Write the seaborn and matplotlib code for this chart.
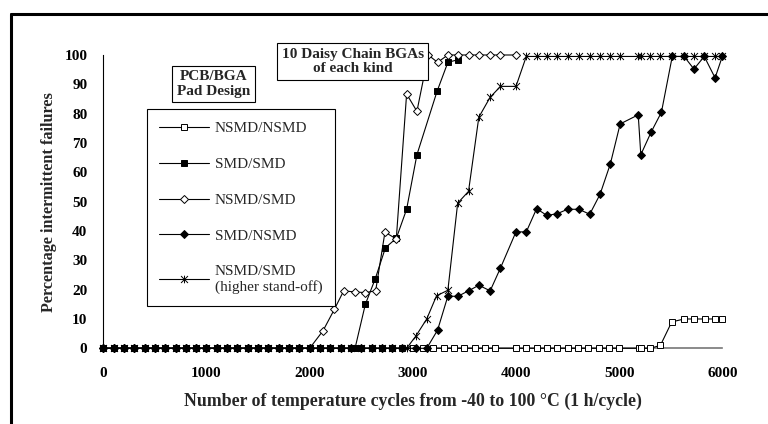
import pandas as pd
import matplotlib.pyplot as plt
import seaborn as sns
from matplotlib.lines import Line2D
from matplotlib.path import Path

# Cycles and percentage of failed BGAs for each pad design
nsmd_nsmd_cycles = [0, 100, 200, 300, 400, 500, 600, 700, 800, 900, 1000, 1100, 1200, 1300,
                    1400, 1500, 1600, 1700, 1800, 1900, 2000, 2100, 2200, 2300, 2400, 2500,
                    2600, 2700, 2800, 2900, 3000, 3100, 3200, 3300, 3400, 3500, 3600, 3700,
                    3800, 4000, 4100, 4200, 4300, 4400, 4500, 4600, 4700, 4800, 4900, 5000,
                    5190, 5210, 5300, 5400, 5510, 5630, 5730, 5830, 5930, 6000]
nsmd_nsmd_pct = [0, 0, 0, 0, 0, 0, 0, 0, 0, 0, 0, 0, 0, 0,
                 0, 0, 0, 0, 0, 0, 0, 0, 0, 0, 0, 0,
                 0, 0, 0, 0, 0, 0, 0, 0, 0, 0, 0, 0,
                 0, 0, 0, 0, 0, 0, 0, 0, 0, 0, 0, 0,
                 0, 0, 0, 1, 9, 10, 10, 10, 10, 10]

smd_smd_cycles = [0, 100, 200, 300, 400, 500, 600, 700, 800, 900, 1000, 1100, 1200, 1300,
                  1400, 1500, 1600, 1700, 1800, 1900, 2000, 2100, 2200, 2300, 2440,
                  2540, 2635, 2735, 2840, 2940, 3040, 3235, 3340, 3440]
smd_smd_pct = [0, 0, 0, 0, 0, 0, 0, 0, 0, 0, 0, 0, 0, 0,
               0, 0, 0, 0, 0, 0, 0, 0, 0, 0, 0,
               15, 23.6, 34.3, 37.5, 47.4, 66, 87.6, 97.5, 98.4]

nsmd_smd_cycles = [0, 100, 200, 300, 400, 500, 600, 700, 800, 900, 1000, 1100, 1200, 1300,
                   1400, 1500, 1600, 1700, 1800, 1900, 2000, 2130, 2240, 2330, 2440, 2540,
                   2640, 2730, 2840, 2940, 3040, 3150, 3240, 3340, 3440, 3540, 3640, 3750,
                   3850, 4000]
nsmd_smd_pct = [0, 0, 0, 0, 0, 0, 0, 0, 0, 0, 0, 0, 0, 0,
                0, 0, 0, 0, 0, 0, 0, 6, 13.3, 19.6, 19.2, 19,
                19.6, 39.6, 37.3, 86.7, 80.8, 100, 97.5, 100, 100, 100, 100, 100,
                100, 100]

smd_nsmd_cycles = [0, 100, 200, 300, 400, 500, 600, 700, 800, 900, 1000, 1100, 1200, 1300,
                   1400, 1500, 1600, 1700, 1800, 1900, 2000, 2100, 2200, 2300, 2400, 2500,
                   2600, 2700, 2800, 2900, 3030, 3135, 3240, 3340, 3435, 3540, 3640, 3750,
                   3850, 4000, 4100, 4200, 4300, 4400, 4500, 4610, 4715, 4815, 4915, 5010,
                   5185, 5210, 5310, 5410, 5515, 5630, 5725, 5825, 5930, 6000]
smd_nsmd_pct = [0, 0, 0, 0, 0, 0, 0, 0, 0, 0, 0, 0, 0, 0,
                0, 0, 0, 0, 0, 0, 0, 0, 0, 0, 0, 0,
                0, 0, 0, 0, 0, 0, 6.2, 17.8, 17.7, 19.6, 21.5, 19.6,
                27.4, 39.7, 39.7, 47.6, 45.3, 45.9, 47.4, 47.4, 45.7, 52.5, 62.9, 76.5,
                79.6, 66, 73.7, 80.5, 99.5, 99.5, 95.2, 99.5, 92.2, 99.5]

standoff_cycles = [0, 100, 200, 300, 400, 500, 600, 700, 800, 900, 1000, 1100, 1200, 1300,
                   1400, 1500, 1600, 1700, 1800, 1900, 2000, 2100, 2200, 2300, 2400, 2500,
                   2600, 2700, 2800, 2940, 3030, 3135, 3230, 3340, 3435, 3540, 3640, 3750,
                   3850, 4000, 4100, 4200, 4300, 4400, 4500, 4610, 4715, 4815, 4915, 5010,
                   5185, 5210, 5300, 5400, 5515, 5630, 5725, 5825, 5930, 6000]
standoff_pct = [0, 0, 0, 0, 0, 0, 0, 0, 0, 0, 0, 0, 0, 0,
                0, 0, 0, 0, 0, 0, 0, 0, 0, 0, 0, 0,
                0, 0, 0, 0, 4.2, 10, 17.9, 19.8, 49.5, 53.5, 78.8, 85.6,
                89.3, 89.3, 99.5, 99.5, 99.5, 99.5, 99.5, 99.5, 99.5, 99.5, 99.5, 99.5,
                99.5, 99.5, 99.5, 99.5, 99.5, 99.5, 99.5, 99.5, 99.5, 99.5]

series_labels = ['NSMD/NSMD', 'SMD/SMD', 'NSMD/SMD', 'SMD/NSMD',
                 'NSMD/SMD\n(higher stand-off)']

sns.set_style("white")
plt.rcParams['font.family'] = ['Liberation Serif', 'DejaVu Serif']

fig = plt.figure(figsize=(7.68, 4.24), dpi=100)
ax = fig.add_axes([0.1345, 0.1785, 0.806, 0.6918])

# Excel-like star marker: an X with a vertical stroke
star = Path([(-1, -1), (1, 1), (-1, 1), (1, -1), (0, -1.1), (0, 1.1)],
            [Path.MOVETO, Path.LINETO, Path.MOVETO, Path.LINETO, Path.MOVETO, Path.LINETO])

# marker style per series: (marker, face colour, size)
styles = [
    ('s', 'white', 4.5),
    ('s', 'black', 5),
    ('D', 'white', 3.6),
    ('D', 'black', 4),
    (star, 'none', 5.5),
]
data = [
    (nsmd_nsmd_cycles, nsmd_nsmd_pct),
    (smd_smd_cycles, smd_smd_pct),
    (nsmd_smd_cycles, nsmd_smd_pct),
    (smd_nsmd_cycles, smd_nsmd_pct),
    (standoff_cycles, standoff_pct),
]

handles = []
for (xs, ys), (mk, fc, ms), lab in zip(data, styles, series_labels):
    df = pd.DataFrame({'cycles': xs, 'pct': ys})
    sns.lineplot(data=df, x='cycles', y='pct', ax=ax, color='black', linewidth=0.8,
                 marker=mk, markersize=ms, markerfacecolor=fc, markeredgecolor='black',
                 markeredgewidth=0.7, clip_on=False, zorder=3)
    handles.append(Line2D([], [], color='black', linewidth=0.8, marker=mk, markersize=ms,
                          markerfacecolor=fc, markeredgecolor='black', markeredgewidth=0.7))

ax.set_xlim(0, 6000)
ax.set_ylim(0, 100)
ax.set_xticks([0, 1000, 2000, 3000, 4000, 5000, 6000])
ax.set_yticks([0, 10, 20, 30, 40, 50, 60, 70, 80, 90, 100])
for s in ['top', 'right']:
    ax.spines[s].set_visible(False)
ax.spines['left'].set_color('black')
ax.spines['left'].set_linewidth(0.8)
ax.spines['bottom'].set_color('#777777')
ax.spines['bottom'].set_linewidth(1.2)
ax.tick_params(axis='y', direction='inout', length=7, width=0.8, colors='black', pad=8,
               labelsize=11)
ax.tick_params(axis='x', direction='inout', length=7, width=0.8, colors='black', pad=10,
               labelsize=11)
for t in ax.get_xticklabels() + ax.get_yticklabels():
    t.set_fontweight('bold')

ax.set_xlabel('Number of temperature cycles from -40 to 100 °C (1 h/cycle)',
              fontsize=12.8, fontweight='bold', labelpad=9)
ax.set_ylabel('Percentage intermittent failures', fontsize=11.7, fontweight='bold',
              labelpad=5)

leg = ax.legend(handles, series_labels, loc='upper left',
                bbox_to_anchor=(146.7 / 768, 1 - 109.3 / 424),
                bbox_transform=fig.transFigure, frameon=True, fancybox=False,
                edgecolor='black', framealpha=1, fontsize=11, handlelength=3.3,
                labelspacing=1.45, borderpad=0.8, handletextpad=0.35, borderaxespad=0)
leg.get_frame().set_linewidth(0.8)

box = dict(boxstyle='square,pad=0.3', facecolor='white', edgecolor='black', linewidth=0.8)
fig.text(213.3 / 768, 1 - 83.9 / 424, 'PCB/BGA\nPad Design', ha='center', va='center',
         fontsize=11, fontweight='bold', bbox=box, zorder=5, linespacing=1.15)
fig.text(352.8 / 768, 1 - 61.7 / 424, '10 Daisy Chain BGAs\nof each kind', ha='center',
         va='center', fontsize=11, fontweight='bold', bbox=box, zorder=5, linespacing=1.15)

# outer frame (left and top edges visible)
fig.add_artist(Line2D([11 / 768, 11 / 768], [0, 1 - 14 / 424], color='black', linewidth=2.2))
fig.add_artist(Line2D([11 / 768, 1], [1 - 14 / 424, 1 - 14 / 424], color='black', linewidth=2.2))

fig.savefig('out.png', dpi=100)
